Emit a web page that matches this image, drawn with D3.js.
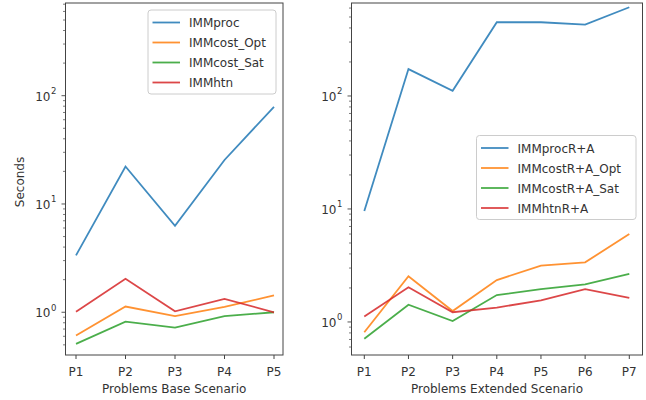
<!DOCTYPE html>
<html>
<head>
<meta charset="utf-8">
<script src="https://cdn.jsdelivr.net/npm/d3@7"></script>
<style>
  body { margin: 0; background: #fff; }
  svg { font-family: "DejaVu Sans", sans-serif; }
</style>
</head>
<body>
<svg id="chart" width="646" height="400"></svg>
<script>
// left panel
var baseProblems = ["P1", "P2", "P3", "P4", "P5"];
var baseNames = ["IMMproc", "IMMcost_Opt", "IMMcost_Sat", "IMMhtn"];
var immProc = [3.35, 22.2, 6.3, 25.5, 79];
var immCostOpt = [0.61, 1.13, 0.92, 1.12, 1.43];
var immCostSat = [0.51, 0.82, 0.72, 0.92, 1.0];
var immHtn = [1.01, 2.04, 1.02, 1.33, 1.0];

// right panel
var extProblems = ["P1", "P2", "P3", "P4", "P5", "P6", "P7"];
var extNames = ["IMMprocR+A", "IMMcostR+A_Opt", "IMMcostR+A_Sat", "IMMhtnR+A"];
var immProcRA = [9.6, 173, 111, 449, 449, 428, 610];
var immCostRAOpt = [0.81, 2.54, 1.25, 2.35, 3.15, 3.37, 6.0];
var immCostRASat = [0.71, 1.42, 1.02, 1.73, 1.95, 2.15, 2.66];
var immHtnRA = [1.12, 2.03, 1.22, 1.34, 1.55, 1.95, 1.63];

var colors = ["#1f77b4", "#ff7f0e", "#2ca02c", "#d62728"];

var svg = d3.select("#chart");

function panel(opts) {
  var x0 = opts.left, x1 = opts.right, y0 = 3, y1 = 355;
  var g = svg.append("g");

  var x = d3.scalePoint().domain(opts.problems).range([opts.firstX, opts.lastX]);
  var y = d3.scaleLog().domain(opts.ydomain).range([y1, y0]);

  // lines
  var line = d3.line()
    .x(function(d, i) { return x(opts.problems[i]); })
    .y(function(d) { return y(d); });

  opts.series.forEach(function(s, k) {
    g.append("path")
      .attr("d", line(s))
      .attr("fill", "none")
      .attr("stroke", colors[k])
      .attr("stroke-opacity", 0.85)
      .attr("stroke-width", 1.8);
  });

  // frame
  g.append("rect")
    .attr("x", x0).attr("y", y0)
    .attr("width", x1 - x0).attr("height", y1 - y0)
    .attr("fill", "none").attr("stroke", "#444").attr("stroke-width", 1);

  // x ticks
  opts.problems.forEach(function(p) {
    g.append("line")
      .attr("x1", x(p)).attr("x2", x(p))
      .attr("y1", y1).attr("y2", y1 + 4)
      .attr("stroke", "#444");
    g.append("text")
      .attr("x", x(p)).attr("y", y1 + 21)
      .attr("text-anchor", "middle")
      .attr("font-size", 12).attr("fill", "#333")
      .text(p);
  });

  g.append("text")
    .attr("x", (x0 + x1) / 2).attr("y", 393)
    .attr("text-anchor", "middle")
    .attr("font-size", 12).attr("fill", "#333")
    .text(opts.xlabel);

  // y ticks (log)
  var lo = Math.floor(Math.log10(opts.ydomain[0])), hi = Math.ceil(Math.log10(opts.ydomain[1]));
  for (var e = lo; e <= hi; e++) {
    for (var m = 1; m < 10; m++) {
      var v = m * Math.pow(10, e);
      if (v < opts.ydomain[0] || v > opts.ydomain[1]) continue;
      g.append("line")
        .attr("x1", x0).attr("x2", x0 - (m === 1 ? 4 : 2.5))
        .attr("y1", y(v)).attr("y2", y(v))
        .attr("stroke", "#444").attr("stroke-width", m === 1 ? 0.9 : 0.7);
      if (m === 1) {
        g.append("text")
          .attr("x", x0 - 15).attr("y", y(v) + 5)
          .attr("text-anchor", "end")
          .attr("font-size", 12).attr("fill", "#333")
          .text("10");
        g.append("text")
          .attr("x", x0 - 14.5).attr("y", y(v) - 1.5)
          .attr("font-size", 8.5).attr("fill", "#333")
          .text(e);
      }
    }
  }

  if (opts.ylabel) {
    g.append("text")
      .attr("transform", "translate(" + 24 + "," + ((y0 + y1) / 2 + 3) + ") rotate(-90)")
      .attr("text-anchor", "middle")
      .attr("font-size", 12).attr("fill", "#333")
      .text(opts.ylabel);
  }

  // legend
  var lg = g.append("g").attr("transform", "translate(" + opts.legend[0] + "," + opts.legend[1] + ")");
  lg.append("rect")
    .attr("x", 0).attr("y", 0)
    .attr("width", opts.legendW).attr("height", 84)
    .attr("rx", 3)
    .attr("fill", "#fff").attr("fill-opacity", 0.8)
    .attr("stroke", "#ccc");
  opts.names.forEach(function(n, k) {
    var yy = 12.5 + k * 20;
    lg.append("line")
      .attr("x1", 4.5).attr("x2", 32)
      .attr("y1", yy).attr("y2", yy)
      .attr("stroke", colors[k]).attr("stroke-opacity", 0.85).attr("stroke-width", 1.8);
    lg.append("text")
      .attr("x", 41).attr("y", yy + 4.5)
      .attr("font-size", 12).attr("fill", "#333")
      .text(n);
  });
}

panel({
  left: 65.5, right: 283, firstX: 76, lastX: 274,
  problems: baseProblems, names: baseNames,
  series: [immProc, immCostOpt, immCostSat, immHtn],
  ydomain: [0.403, 718],
  xlabel: "Problems Base Scenario", ylabel: "Seconds",
  legend: [148, 10], legendW: 128
});

panel({
  left: 351.5, right: 642.5, firstX: 364.3, lastX: 629.3,
  problems: extProblems, names: extNames,
  series: [immProcRA, immCostRAOpt, immCostRASat, immHtnRA],
  ydomain: [0.51, 665],
  xlabel: "Problems Extended Scenario", ylabel: null,
  legend: [476.5, 135.5], legendW: 159.5
});
</script>
</body>
</html>
